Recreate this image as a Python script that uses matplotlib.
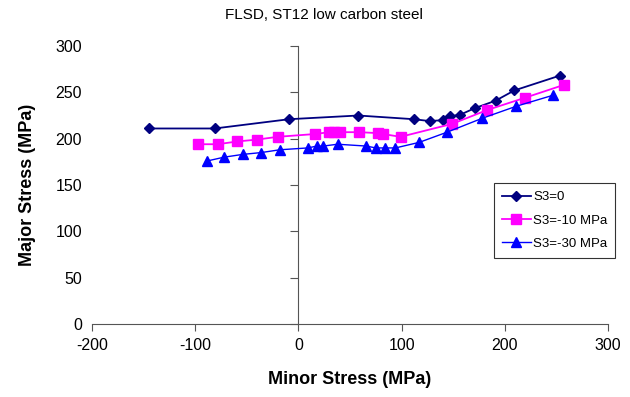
import matplotlib.pyplot as plt

plt.rcParams['font.family'] = ['Liberation Sans', 'DejaVu Sans']
plt.rcParams['axes.unicode_minus'] = False

# S3 = 0
x_s0 = [-145, -81, -9, 58, 112, 127, 140, 147, 157, 171, 191, 209, 253]
y_s0 = [211, 211, 221, 225, 221, 219, 220, 224, 226, 233, 241, 252, 268]

# S3 = -10 MPa
x_s10 = [-97, -78, -59, -40, -20, 16, 30, 35, 40, 59, 77, 82, 99, 149, 183, 219, 257]
y_s10 = [194, 194, 197, 199, 202, 205, 207, 207, 207, 207, 206, 205, 202, 216, 231, 244, 258]

# S3 = -30 MPa
x_s30 = [-88, -72, -54, -36, -18, 9, 18, 24, 38, 66, 75, 84, 94, 117, 144, 178, 211, 247]
y_s30 = [176, 180, 183, 185, 188, 190, 192, 192, 194, 192, 190, 190, 190, 196, 207, 222, 235, 247]

labels = ['S3=0', 'S3=-10 MPa', 'S3=-30 MPa']
xticks = [-200, -100, 0, 100, 200, 300]
yticks = [0, 50, 100, 150, 200, 250, 300]

fig = plt.figure(figsize=(6.3, 3.97), dpi=100)
ax = fig.add_axes([0.1456, 0.1839, 0.8198, 0.7002])

ax.plot(x_s0, y_s0, color='#000080', marker='D', markersize=5.5, lw=1.3, label=labels[0])
ax.plot(x_s10, y_s10, color='#FF00FF', marker='s', markersize=6.5, lw=1.3, label=labels[1])
ax.plot(x_s30, y_s30, color='#0000FF', marker='^', markersize=7, lw=1.0, label=labels[2])

ax.set_xlim(-200, 300)
ax.set_ylim(0, 300)
ax.set_xticks(xticks)
ax.set_yticks(yticks)

for s in ['left', 'right', 'top']:
    ax.spines[s].set_visible(False)
ax.spines['bottom'].set_color('#555555')
ax.tick_params(axis='x', direction='out', length=5, color='#555555', labelsize=11.5, pad=5)
ax.tick_params(axis='y', length=0, labelsize=11.5, pad=7)

# vertical axis crossing at x = 0
sec = ax.secondary_yaxis(0.4)
sec.set_yticks(yticks)
sec.tick_params(axis='y', direction='out', length=6, color='#555555', labelleft=False, labelright=False)
sec.spines['left'].set_color('#555555')

fig.text(0.514, 0.962, 'FLSD, ST12 low carbon steel', ha='center', va='center', fontsize=11)
ax.set_xlabel('Minor Stress (MPa)', fontsize=13, fontweight='bold', labelpad=13)
ax.set_ylabel('Major Stress (MPa)', fontsize=13, fontweight='bold', labelpad=14)

leg = ax.legend(loc='upper left', bbox_to_anchor=(0.779, 0.507), frameon=True, fancybox=False,
                fontsize=9.5, handlelength=2.2, handletextpad=0.15, borderpad=0.6,
                labelspacing=0.85, borderaxespad=0)
leg.get_frame().set_edgecolor('black')
leg.get_frame().set_linewidth(0.8)

fig.savefig('out.png', dpi=100)
